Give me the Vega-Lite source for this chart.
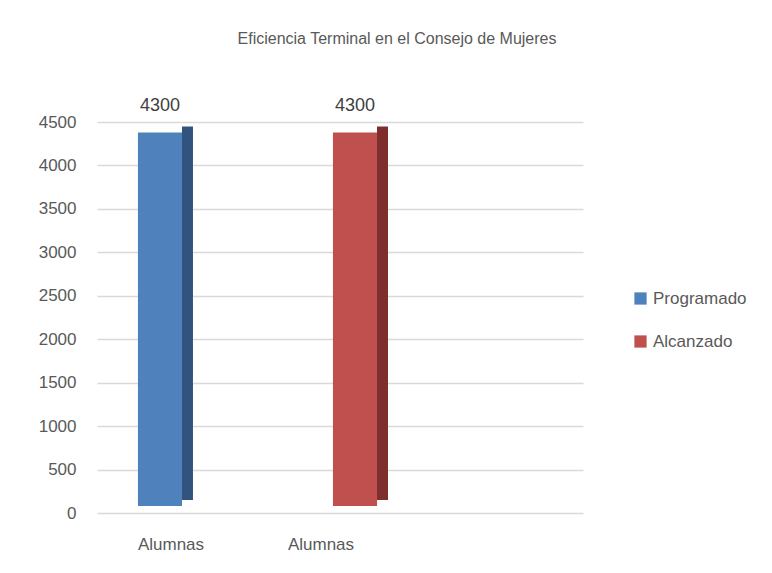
{
  "$schema": "https://vega.github.io/schema/vega-lite/v6.json",
  "autosize": "none",
  "width": 486,
  "height": 391,
  "padding": {"left": 97, "top": 122, "right": 189, "bottom": 60},
  "background": "white",
  "title": {
    "text": "Eficiencia Terminal en el Consejo de Mujeres",
    "font": "Liberation Sans",
    "fontSize": 16,
    "fontWeight": "normal",
    "color": "#595959",
    "anchor": "middle",
    "dx": 57,
    "offset": 50
  },
  "data": {
    "values": [
      {"serie": "Programado", "categoria": "Alumnas", "valor": 4300},
      {"serie": "Alcanzado", "categoria": "Alumnas", "valor": 4300}
    ]
  },
  "encoding": {
    "x": {
      "field": "serie",
      "type": "nominal",
      "scale": {"domain": ["Programado", "Alcanzado", " "], "paddingInner": 0.774, "paddingOuter": 0.133},
      "axis": {
        "title": null,
        "labelExpr": "datum.value == ' ' ? '' : 'Alumnas'",
        "labelAngle": 0,
        "domain": false,
        "ticks": false,
        "labelFont": "Liberation Sans",
        "labelFontSize": 17,
        "labelColor": "#595959",
        "labelPadding": 23,
        "labelOffset": {"condition": {"test": "datum.value == 'Programado'", "value": 26}, "value": -19}
      }
    },
    "y": {
      "field": "valor",
      "type": "quantitative",
      "scale": {"domain": [0, 4500], "nice": false},
      "axis": {
        "title": null,
        "format": "d",
        "values": [0, 500, 1000, 1500, 2000, 2500, 3000, 3500, 4000, 4500],
        "domain": false,
        "ticks": false,
        "labelFont": "Liberation Sans",
        "labelFontSize": 17,
        "labelColor": "#595959",
        "labelPadding": 21,
        "gridColor": "#D9D9D9",
        "gridWidth": 1.5
      }
    }
  },
  "layer": [
    {
      "mark": {"type": "bar", "width": 11, "xOffset": 42.5, "yOffset": -13},
      "encoding": {
        "color": {"condition": {"test": "datum.serie == 'Programado'", "value": "#33537F"}, "value": "#7E2F2D"}
      }
    },
    {
      "mark": {"type": "bar", "xOffset": 15, "yOffset": -7},
      "encoding": {
        "color": {
          "field": "serie",
          "type": "nominal",
          "scale": {"domain": ["Programado", "Alcanzado"], "range": ["#4F81BD", "#C0504D"]},
          "legend": {
            "title": null,
            "orient": "none",
            "legendX": 535,
            "legendY": 168,
            "symbolType": "square",
            "symbolSize": 150,
            "symbolStrokeWidth": 0,
            "labelFont": "Liberation Sans",
            "labelFontSize": 17,
            "labelColor": "#595959",
            "rowPadding": 25,
            "labelOffset": 4
          }
        }
      }
    },
    {
      "mark": {"type": "text", "dy": -33, "xOffset": 15, "font": "Liberation Sans", "fontSize": 18, "color": "#404040"},
      "encoding": {"text": {"field": "valor", "type": "quantitative", "format": "d"}}
    }
  ],
  "config": {"view": {"stroke": null}}
}
